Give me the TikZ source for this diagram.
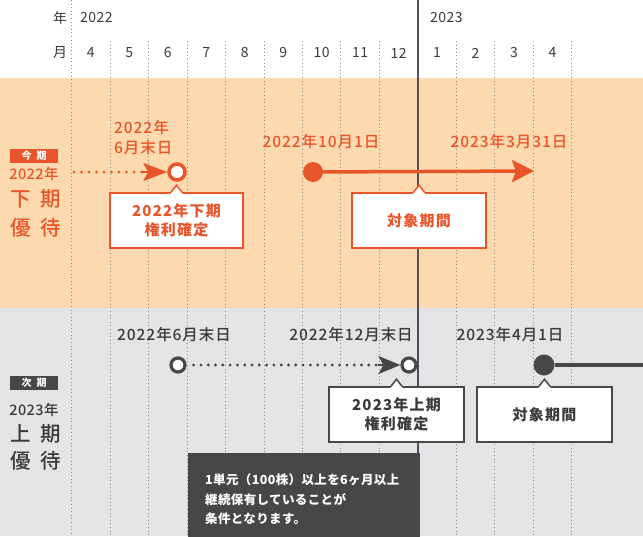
\documentclass[tikz,border=0pt]{standalone}
\usepackage{fontspec}
\setmainfont{Noto Sans CJK JP}
\newfontfamily\medfont{Noto Sans CJK JP Medium}
\usetikzlibrary{arrows.meta,calc}
\definecolor{orng}{HTML}{E9552A}
\definecolor{peach}{HTML}{FCD9AF}
\definecolor{lgray}{HTML}{E4E4E6}
\definecolor{dgray}{HTML}{474747}
\definecolor{tgray}{HTML}{3A3A3A}
\definecolor{gridc}{HTML}{8C8C8C}
\definecolor{vlinec}{HTML}{4F4F5E}
\newcommand\mynotch[2]{%
  \fill[white] ($(#1.north)+(-6,1.5)$) -- ($(#1.north)+(0,-7)$) -- ($(#1.north)+(6,1.5)$) -- cycle;
  \draw[#2, line width=1.5pt, line join=miter] ($(#1.north)+(-5.5,0)$) -- ($(#1.north)+(0,-7)$) -- ($(#1.north)+(5.5,0)$);}
\begin{document}
\begin{tikzpicture}[x=1pt,y=-1pt,
  gridline/.style={draw=gridc, line width=0.8pt, dash pattern=on 1pt off 2.6pt},
  vline/.style={draw=vlinec, line width=1.3pt},
  hdr/.style={text=tgray, font=\fontsize{14}{14}\selectfont\addfontfeature{LetterSpace=3}, inner sep=0},
  olab/.style={text=orng, font=\medfont\fontsize{15.5}{20}\selectfont\addfontfeature{LetterSpace=6}, inner sep=0, align=left},
  glab/.style={text=tgray, font=\medfont\fontsize{15.5}{20}\selectfont\addfontfeature{LetterSpace=6}, inner sep=0},
  tag/.style={text=white, font=\bfseries\fontsize{10}{10}\selectfont, minimum width=48pt, minimum height=14pt, inner sep=0},
  side/.style={inner sep=0, font=\medfont\fontsize{14.5}{14.5}\selectfont\addfontfeature{LetterSpace=3}},
  big/.style={inner sep=0, font=\medfont\fontsize{20.5}{20}\selectfont},
  ocirc/.style={circle, draw=orng, line width=3.5pt, fill=white, minimum size=16pt, inner sep=0},
  ofill/.style={circle, fill=orng, minimum size=20pt, inner sep=0},
  gcirc/.style={circle, draw=dgray, line width=3.2pt, fill=white, minimum size=14pt, inner sep=0},
  gfill/.style={circle, fill=dgray, minimum size=21pt, inner sep=0},
  odots/.style={draw=orng, line width=3pt, line cap=round, dash pattern=on 0pt off 7.5pt},
  gdots/.style={draw=dgray, line width=3.2pt, line cap=round, dash pattern=on 0pt off 7.3pt},
  ocall/.style={rectangle, draw=orng, line width=1.5pt, fill=white, text=orng, font=\bfseries\fontsize{15}{19}\selectfont\addfontfeature{LetterSpace=8}, align=center, minimum width=133pt, minimum height=55pt, inner sep=0},
  gcall/.style={rectangle, draw=dgray, line width=1.5pt, fill=white, text=tgray, font=\bfseries\fontsize{15}{19}\selectfont\addfontfeature{LetterSpace=8}, align=center, minimum width=135pt, minimum height=55pt, inner sep=0},
  darkbox/.style={rectangle, fill=dgray, text=white, font=\bfseries\fontsize{12.5}{19.5}\selectfont\addfontfeature{LetterSpace=3}, align=left, text width=198pt, minimum width=232pt, minimum height=92pt, inner xsep=17pt, inner ysep=0}
]
\useasboundingbox (0,0) rectangle (643,536);
% bands
\fill[white] (0,0) rectangle (643,78);
\fill[peach] (0,78) rectangle (643,308);
\fill[lgray] (0,308) rectangle (643,536);
% grid
\draw[gridline] (71.6,0) -- (71.6,536);
\foreach \k in {1,...,8,10,11,12,13}{
  \draw[gridline] ({71.6+38.47*\k},41) -- ({71.6+38.47*\k},536);
}
\coordinate (vt) at (418,0);
\coordinate (vb) at (418,536);
\draw[vline] (vt) -- (vb);
% header
\node[hdr] (ynen) at (60,18) {年};
\node[hdr, anchor=west] (y22) at (80,18) {2022};
\node[hdr, anchor=west] (y23) at (430,18) {2023};
\node[hdr] (mtsuki) at (60,53) {月};
\foreach \m [count=\k from 0] in {4,5,6,7,8,9,10,11,12,1,2,3,4}{
  \node[hdr] (m\k) at ({71.6+38.47*(\k+0.5)},53) {\m};
}
% left labels: current
\node[tag, fill=orng] (kon) at (34,156) {今\hspace{5pt}期};
\node[side, text=orng] (ky) at (34,174) {2022年};
\node[big, text=orng] (kk) at (36,199) {下\hspace{10pt}期};
\node[big, text=orng] (ku) at (36,228) {優\hspace{10pt}待};
% left labels: next
\node[tag, fill=dgray] (ji) at (34,383) {次\hspace{5pt}期};
\node[side, text=tgray] (jy) at (34,410) {2023年};
\node[big, text=tgray] (jk) at (36,434) {上\hspace{10pt}期};
\node[big, text=tgray] (ju) at (36,461) {優\hspace{10pt}待};
% orange timeline
\node[olab, anchor=west] (l1) at (114,138) {2022年\\6月末日};
\node[olab] (l2) at (321,142) {2022年10月1日};
\node[olab] (l3) at (509,142) {2023年3月31日};
\node[ocirc] (p1) at (177,172) {};
\node[ofill] (p2) at (313,172) {};
\coordinate (s1) at (74,172);
\coordinate (e1) at (534,171);
\draw[odots] (s1) -- ($(p1.west)+(-24,0)$);
\draw[orng, line width=2.6pt, -{Stealth[length=24pt,width=18pt,inset=5pt]}] ($(p1.west)+(-25,0)$) -- (p1.west);
\draw[orng, line width=3.5pt, -{Stealth[length=22pt,width=22pt,inset=4pt]}] (p2) -- (e1);
\node[ocall] (c1) at (176.5,220.5) {2022年下期\\権利確定};
\mynotch{c1}{orng}
\node[ocall, minimum width=134pt] (c2) at (419,220.5) {対象期間};
\mynotch{c2}{orng}
% gray timeline
\node[glab] (g1) at (174,335) {2022年6月末日};
\node[glab] (g2) at (351,335) {2022年12月末日};
\node[glab] (g3) at (510,335) {2023年4月1日};
\node[gcirc] (q1) at (178,365) {};
\node[gcirc] (q2) at (409,365) {};
\node[gfill] (q3) at (544,365) {};
\coordinate (q4) at (643,365);
\draw[gdots] ($(q1.east)+(7,0)$) -- ($(q2.west)+(-21,0)$);
\draw[dgray, line width=2.6pt, -{Stealth[length=22pt,width=18pt,inset=5pt]}] ($(q2.west)+(-22,0)$) -- (q2.west);
\draw[dgray, line width=3.5pt] (q3) -- (q4);
\node[gcall] (c3) at (396.5,414.5) {2023年上期\\権利確定};
\mynotch{c3}{dgray}
\node[gcall] (c4) at (544.5,414.5) {対象期間};
\mynotch{c4}{dgray}
% note box
\node[darkbox, anchor=north west] (note) at (188,453) {1単元（100株）以上を6ヶ月以上\\継続保有していることが\\条件となります。};
\end{tikzpicture}
\end{document}
